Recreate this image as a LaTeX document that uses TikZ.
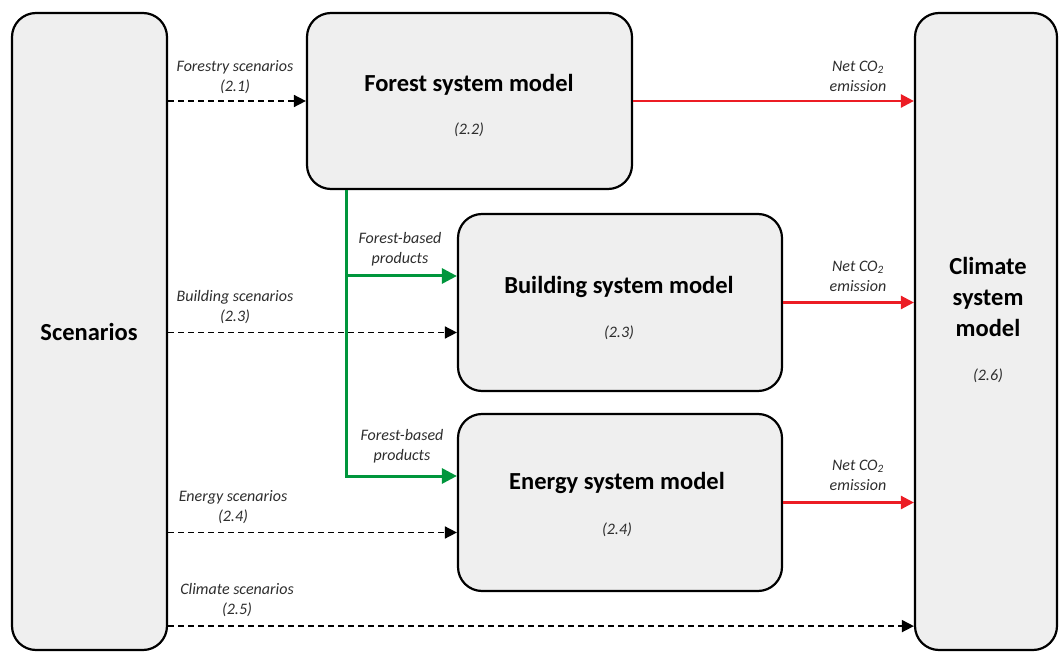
\documentclass[tikz,border=0pt]{standalone}
\usepackage{fontspec}
\setmainfont{Carlito}
\usetikzlibrary{arrows.meta,calc}
\definecolor{boxfill}{RGB}{239,239,239}
\definecolor{myred}{RGB}{236,28,36}
\definecolor{mygreen}{RGB}{0,150,60}
\definecolor{labgray}{RGB}{45,45,45}
\begin{document}
\begin{tikzpicture}[x=1pt,y=-1pt,
  box/.style={draw=black,line width=2.2pt,fill=boxfill,rounded corners=24pt,inner sep=0pt},
  title/.style={font=\fontsize{24.5}{31}\selectfont\bfseries,align=center},
  num/.style={font=\fontsize{16}{19}\selectfont\itshape,text=labgray},
  lab/.style={font=\fontsize{16}{20}\selectfont\itshape,align=center,text=labgray},
  scenarrow/.style={draw=black,line width=1.6pt,dash pattern=on 6pt off 4pt,-{Triangle[length=12pt,width=12pt]}},
  co2arrow/.style={draw=myred,line width=2.5pt,-{Triangle[length=13pt,width=13pt]}},
  prodarrow/.style={draw=mygreen,line width=3pt,-{Triangle[length=15pt,width=15pt]}},
]
\useasboundingbox (0,0) rectangle (1060,652);
\begin{scope}
\clip (0,0) rectangle (1060,652);
% boxes
\node[box,minimum width=155pt,minimum height=637pt] (scen) at (89.5,331.5) {};
\node[box,minimum width=325pt,minimum height=176pt] (forest) at (469.5,101) {};
\node[box,minimum width=324pt,minimum height=177pt] (build) at (620,302.5) {};
\node[box,minimum width=324pt,minimum height=177pt] (energy) at (620,502.5) {};
\node[box,minimum width=142pt,minimum height=637pt] (clim) at (986,331.5) {};
\end{scope}
% box texts
\node[title] (scenT) at (89,332) {Scenarios};
\node[title] (forestT) at (469,85) {Forest system model};
\node[num] (forestN) at (469,130) {(2.2)};
\node[title] (buildT) at (619,287) {Building system model};
\node[num] (buildN) at (619,333) {(2.3)};
\node[title] (energyT) at (617,483) {Energy system model};
\node[num] (energyN) at (617,530) {(2.4)};
\node[title,font=\fontsize{24.5}{31}\selectfont\bfseries] (climT) at (988,297) {Climate\\system\\model};
\node[num] (climN) at (988,376) {(2.6)};
% coordinates
\coordinate (bIn) at ($(build.west)+(0,30)$);
\coordinate (eIn) at ($(energy.west)+(0,30)$);
\coordinate (cIn) at ($(clim.south west)+(0,-25)$);
\coordinate (gTop) at ($(forest.south west)+(41,0)$);
\coordinate (bG) at ($(build.west)+(0,-26.5)$);
\coordinate (eG) at ($(energy.west)+(0,-26.5)$);
% scenario arrows
\draw[scenarrow] (forest.west -| scen.east) -- (forest.west);
\draw[scenarrow] (bIn -| scen.east) -- (bIn);
\draw[scenarrow] (eIn -| scen.east) -- (eIn);
\draw[scenarrow] (cIn -| scen.east) -- (cIn);
\node[lab] (l1) at (235,77) {Forestry scenarios\\(2.1)};
\node[lab] (l2) at (235,307) {Building scenarios\\(2.3)};
\node[lab] (l3) at (233,507) {Energy scenarios\\(2.4)};
\node[lab] (l4) at (237,600) {Climate scenarios\\(2.5)};
% product arrows
\draw[prodarrow] (gTop) |- (eG);
\draw[prodarrow] (gTop |- bG) -- (bG);
\node[lab] (p1) at (400,249) {Forest-based\\products};
\node[lab] (p2) at (402,446) {Forest-based\\products};
% CO2 arrows
\draw[co2arrow] (forest.east) -- (forest.east -| clim.west);
\draw[co2arrow] (build.east) -- (build.east -| clim.west);
\draw[co2arrow] (energy.east) -- (energy.east -| clim.west);
\node[lab] (c1) at (858,76) {Net CO\textsubscript{2}\\emission};
\node[lab] (c2) at (858,276) {Net CO\textsubscript{2}\\emission};
\node[lab] (c3) at (858,475) {Net CO\textsubscript{2}\\emission};
\end{tikzpicture}
\end{document}
